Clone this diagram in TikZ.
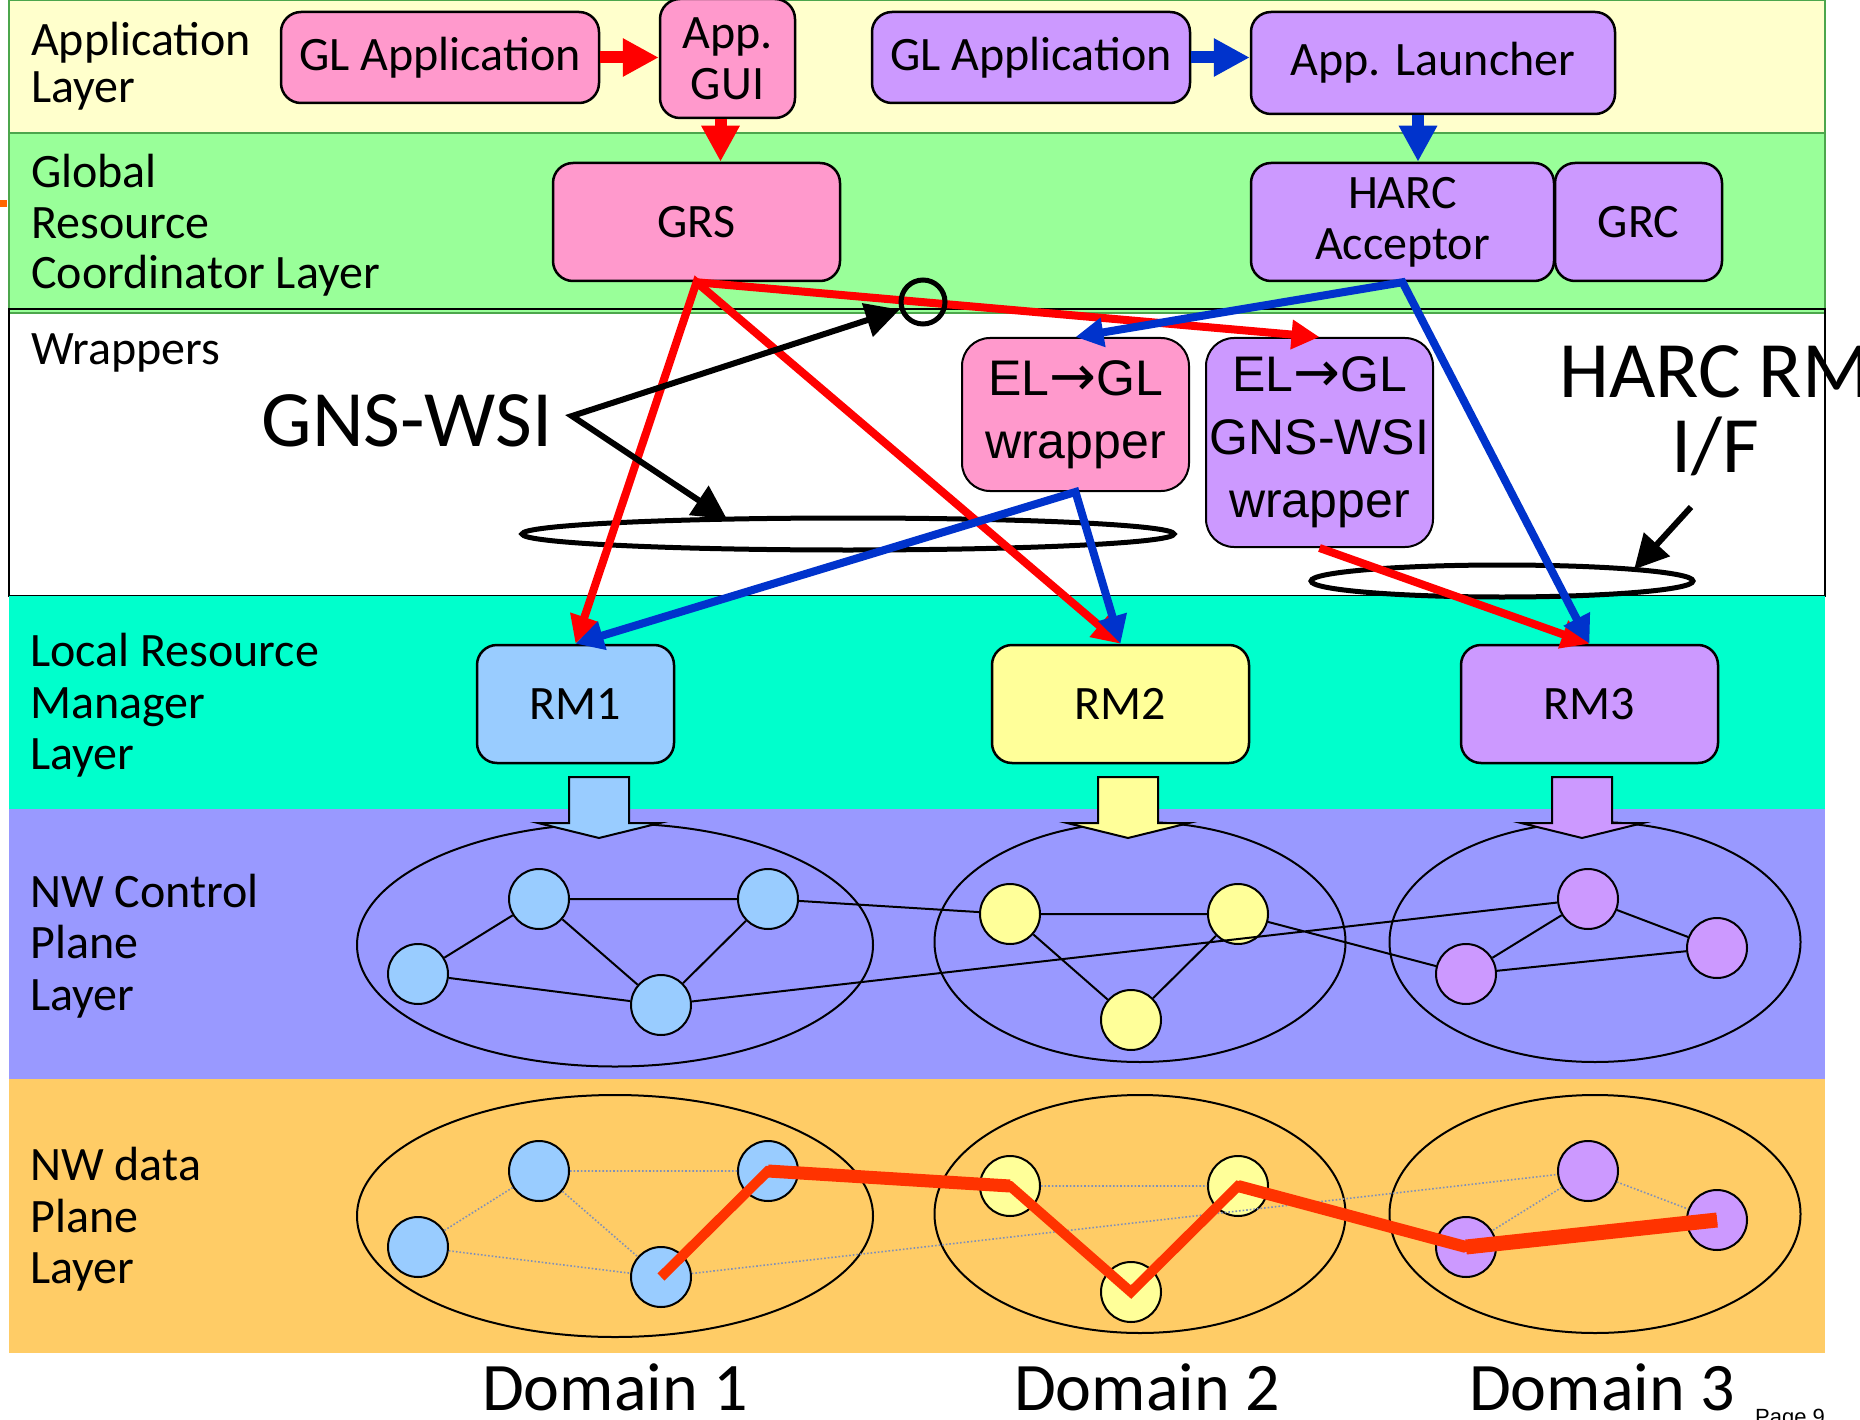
\documentclass[tikz,border=0pt]{standalone}
\usepackage{fontspec}
\setmainfont{Carlito}
\newfontfamily\arialfont{Liberation Sans}
\newfontfamily\arrowfont{DejaVu Sans}
\usetikzlibrary{arrows.meta,shapes.geometric,calc}

\definecolor{appbg}{HTML}{FFFFCC}
\definecolor{grcbg}{HTML}{99FF99}
\definecolor{grcline}{HTML}{4CA64C}
\definecolor{lrmbg}{HTML}{00FFCC}
\definecolor{ctlbg}{HTML}{9999FF}
\definecolor{databg}{HTML}{FFCC66}
\definecolor{pinkbox}{HTML}{FF99CC}
\definecolor{violetbox}{HTML}{CC99FF}
\definecolor{skybox}{HTML}{99CCFF}
\definecolor{lemonbox}{HTML}{FFFF99}
\definecolor{flowred}{HTML}{FF0000}
\definecolor{flowblue}{HTML}{0033CC}
\definecolor{pathred}{HTML}{FF3300}
\definecolor{linkgrey}{HTML}{8090B8}
\definecolor{edgemark}{HTML}{FF6600}

\newcommand\layerfont{\fontsize{48}{51}\selectfont}
\newcommand\bigcomic{\fontsize{80}{82}\selectfont}
\newcommand\wraptext{\arialfont\fontsize{50}{63}\selectfont}
\newcommand\domtext{\fontsize{68}{70}\selectfont}
\newcommand\pagetext{\arialfont\fontsize{22}{24}\selectfont}
\newcommand\elgl{EL{\arrowfont\fontsize{56}{63}\selectfont→}GL}

\begin{document}
\begin{tikzpicture}[x=1pt,y=-1pt,
  layerlabel/.style={anchor=base west, inner sep=0pt, font=\layerfont},
  unitbox/.style={draw=black, line width=2.5pt, rounded corners=20pt, inner sep=0pt,
    align=center, font=\layerfont},
  wrapbox/.style={unitbox, line width=2pt, rounded corners=28pt, font=\wraptext},
  redflow/.style={draw=flowred, line width=8pt, line join=miter},
  blueflow/.style={draw=flowblue, line width=8pt, line join=miter},
  tipr/.style={-{Triangle[length=28pt,width=28pt]}},
  tiprr/.style={{Triangle[length=28pt,width=28pt]}-{Triangle[length=28pt,width=28pt]}},
  appflow/.style={line width=12pt, -{Triangle[length=36pt,width=36pt]}},
  notearrow/.style={draw=black, line width=6pt, line join=miter},
  ringmark/.style={ellipse, draw=black, line width=5pt, inner sep=0pt, outer sep=0pt},
  domainoval/.style={ellipse, draw=black, line width=2pt, inner sep=0pt},
  nwnode/.style={circle, draw=black, line width=2pt, minimum size=60pt, inner sep=0pt},
  ctlink/.style={draw=black, line width=2pt},
  datalink/.style={draw=linkgrey, line width=1.6pt, dotted},
  pics/blockdown/.style={code={
    \filldraw[line width=2pt, fill=#1] (-30,0) -- (30,0) -- (30,46) -- (61,46)
      -- (0,61) -- (-61,46) -- (-30,46) -- cycle;}}
]
\useasboundingbox (0,0) rectangle (1860,1420);
\fill[white] (0,0) rectangle (1860,1420);

% layer bands
\filldraw[fill=appbg, draw=grcline, line width=2pt] (9,0) rectangle (1825,133);
\filldraw[fill=grcbg, draw=grcline, line width=2pt] (9,133) rectangle (1825,313);
\fill[white] (10,314) rectangle (1825,596);
\draw[line width=2pt] (9,309) rectangle (1825,596);
\fill[lrmbg] (9,596) rectangle (1825,809);
\fill[ctlbg] (9,809) rectangle (1825,1079);
\fill[databg] (9,1079) rectangle (1825,1353);
\fill[edgemark] (0,200) rectangle (7,207);

% layer names
\node[layerlabel] (lapp1) at (31,56) {Application};
\node[layerlabel] (lapp2) at (31,103) {Layer};
\node[layerlabel] (lgrc1) at (31,188) {Global};
\node[layerlabel] (lgrc2) at (31,239) {Resource};
\node[layerlabel] (lgrc3) at (31,289) {Coordinator Layer};
\node[layerlabel] (lwrap) at (31,365) {Wrappers};
\node[layerlabel] (llrm1) at (30,666) {Local Resource};
\node[layerlabel] (llrm2) at (30,718) {Manager};
\node[layerlabel] (llrm3) at (30,769) {Layer};
\node[layerlabel] (lctl1) at (30,907) {NW Control};
\node[layerlabel] (lctl2) at (30,958) {Plane};
\node[layerlabel] (lctl3) at (30,1010) {Layer};
\node[layerlabel] (ldat1) at (30,1180) {NW data};
\node[layerlabel] (ldat2) at (30,1232) {Plane};
\node[layerlabel] (ldat3) at (30,1283) {Layer};

% application and coordinator boxes
\node[unitbox, fill=pinkbox, minimum width=318pt, minimum height=91pt] (glapp1) at (440,57.5) {GL Application};
\node[unitbox, fill=pinkbox, minimum width=135pt, minimum height=119pt] (appgui) at (727.5,58.5) {App.\\ GUI};
\node[unitbox, fill=pinkbox, minimum width=287pt, minimum height=118pt] (grs) at (696.5,222) {GRS};
\node[unitbox, fill=violetbox, minimum width=318pt, minimum height=91pt] (glapp2) at (1031,57.5) {GL Application};
\node[unitbox, fill=violetbox, minimum width=364pt, minimum height=102pt] (launcher) at (1433,63) {App. Launcher};
\node[unitbox, fill=violetbox, minimum width=303pt, minimum height=118pt] (harc) at (1402.5,222) {HARC\\Acceptor};
\node[unitbox, fill=violetbox, minimum width=167pt, minimum height=118pt] (grc) at (1638.5,222) {GRC};

% wrappers
\node[wrapbox, fill=pinkbox, minimum width=227pt, minimum height=153pt] (elgl) at (1075.5,414.5) {\elgl\\wrapper};
\node[wrapbox, fill=violetbox, minimum width=227pt, minimum height=209pt] (elglwsi) at (1319.5,442.5) {\elgl\\GNS-WSI\\wrapper};

% local resource managers
\node[unitbox, fill=skybox, minimum width=197pt, minimum height=118pt] (rm1) at (575.5,704) {RM1};
\node[unitbox, fill=lemonbox, minimum width=257pt, minimum height=118pt] (rm2) at (1120.5,704) {RM2};
\node[unitbox, fill=violetbox, minimum width=257pt, minimum height=118pt] (rm3) at (1589.5,704) {RM3};

% application layer arrows
\draw[appflow, flowred] (glapp1.east) -- (glapp1.east -| appgui.west);
\draw[appflow, flowred] ([xshift=-7pt]appgui.south) -- ([xshift=-7pt]appgui.south |- grs.north);
\draw[appflow, flowblue] (glapp2.east) -- (glapp2.east -| launcher.west);
\draw[appflow, flowblue] ([xshift=-15pt]launcher.south) -- ([xshift=-15pt]launcher.south |- harc.north);

% interface rings
\node[ringmark, minimum width=652pt, minimum height=32pt] (wsiring) at (848,534) {};
\node[ringmark, minimum width=382pt, minimum height=32pt] (harcring) at (1502,581) {};

% signalling flows
\draw[redflow, tiprr] (rm1.north) -- (grs.south) -- (rm2.north);
\draw[redflow, tipr] (grs.south) -- (elglwsi.north);
\draw[redflow, tipr] (elglwsi.south) -- (rm3.north);
\draw[blueflow, tiprr] (elgl.north) -- (harc.south) -- (rm3.north);
\draw[blueflow, tiprr] (rm1.north) -- (elgl.south) -- (rm2.north);

% GNS-WSI and HARC RM I/F call-outs
\node[circle, draw=black, line width=5pt, minimum size=44pt, inner sep=0pt] (probe) at (923,302) {};
\node[anchor=base, inner sep=0pt, font=\bigcomic] (gnswsi) at (407,446) {GNS-WSI};
\node[anchor=base, inner sep=0pt, font=\bigcomic] (harcrm) at (1715,397) {HARC RM};
\node[anchor=base, inner sep=0pt, font=\bigcomic] (harcif) at (1715,472) {I/F};
\coordinate (gnsfork) at (572,416);
\coordinate (ifstart) at (1691,507);
\draw[notearrow, {Triangle[length=34pt,width=34pt]}-{Triangle[length=34pt,width=34pt]}]
  (probe) -- (gnsfork) -- (wsiring.173.5);
\draw[notearrow, -{Triangle[length=34pt,width=34pt]}] (ifstart) -- (harcring.5);

% control plane domains
\node[domainoval, minimum width=516pt, minimum height=243pt] (cdom1) at (615,945) {};
\node[domainoval, minimum width=411pt, minimum height=240pt] (cdom2) at (1140,942) {};
\node[domainoval, minimum width=411pt, minimum height=240pt] (cdom3) at (1595,942) {};
\pic at (599,777) {blockdown=skybox};
\pic at (1128,777) {blockdown=lemonbox};
\pic at (1582,777) {blockdown=violetbox};

\node[nwnode, fill=skybox] (c1a) at (539,899) {};
\node[nwnode, fill=skybox] (c1b) at (768,899) {};
\node[nwnode, fill=skybox] (c1c) at (418,974) {};
\node[nwnode, fill=skybox] (c1d) at (661,1005) {};
\node[nwnode, fill=lemonbox] (c2a) at (1010,914) {};
\node[nwnode, fill=lemonbox] (c2b) at (1238,914) {};
\node[nwnode, fill=lemonbox] (c2c) at (1131,1020) {};
\node[nwnode, fill=violetbox] (c3a) at (1588,899) {};
\node[nwnode, fill=violetbox] (c3b) at (1717,948) {};
\node[nwnode, fill=violetbox] (c3c) at (1466,974) {};

\draw[ctlink] (c1a) -- (c1b) (c1a) -- (c1c) (c1a) -- (c1d) (c1b) -- (c1d) (c1c) -- (c1d)
  (c1b) -- (c2a) (c2a) -- (c2b) (c2a) -- (c2c) (c2b) -- (c2c) (c2b) -- (c3c)
  (c1d) -- (c3a) (c3a) -- (c3c) (c3a) -- (c3b) (c3c) -- (c3b);

% data plane domains
\node[domainoval, minimum width=516pt, minimum height=242pt] (ddom1) at (615,1216) {};
\node[domainoval, minimum width=411pt, minimum height=238pt] (ddom2) at (1140,1214) {};
\node[domainoval, minimum width=411pt, minimum height=238pt] (ddom3) at (1595,1214) {};

\node[nwnode, fill=skybox] (d1a) at (539,1171) {};
\node[nwnode, fill=skybox] (d1b) at (768,1171) {};
\node[nwnode, fill=skybox] (d1c) at (418,1247) {};
\node[nwnode, fill=skybox] (d1d) at (661,1277) {};
\node[nwnode, fill=lemonbox] (d2a) at (1010,1186) {};
\node[nwnode, fill=lemonbox] (d2b) at (1238,1186) {};
\node[nwnode, fill=lemonbox] (d2c) at (1131,1292) {};
\node[nwnode, fill=violetbox] (d3a) at (1588,1171) {};
\node[nwnode, fill=violetbox] (d3b) at (1717,1220) {};
\node[nwnode, fill=violetbox] (d3c) at (1466,1247) {};

\draw[datalink] (d1a) -- (d1b) (d1a) -- (d1c) (d1a) -- (d1d) (d1b) -- (d1d) (d1c) -- (d1d)
  (d1b) -- (d2a) (d2a) -- (d2b) (d2a) -- (d2c) (d2b) -- (d2c) (d2b) -- (d3c)
  (d1d) -- (d3a) (d3a) -- (d3c) (d3a) -- (d3b) (d3c) -- (d3b);

% end-to-end lightpath
\draw[pathred, line width=10pt, line join=miter]
  (d1d.center) -- (d1b.center) -- (d2a.center) -- (d2c.center) -- (d2b.center)
  -- (d3c.center) -- (d3b.center);
\draw[pathred, line width=13pt] (d1b.center) -- (d2a.center);
\draw[pathred, line width=12pt] (d2b.center) -- (d3c.center);
\draw[pathred, line width=15pt] (d3c.center) -- (d3b.center);

% domain captions
\node[anchor=base, inner sep=0pt, font=\domtext] (dom1) at (615,1410) {Domain 1};
\node[anchor=base, inner sep=0pt, font=\domtext] (dom2) at (1147,1410) {Domain 2};
\node[anchor=base, inner sep=0pt, font=\domtext] (dom3) at (1602,1410) {Domain 3};
\node[anchor=base west, inner sep=0pt, font=\pagetext] (pageno) at (1755,1424) {Page 9};
\end{tikzpicture}
\end{document}
